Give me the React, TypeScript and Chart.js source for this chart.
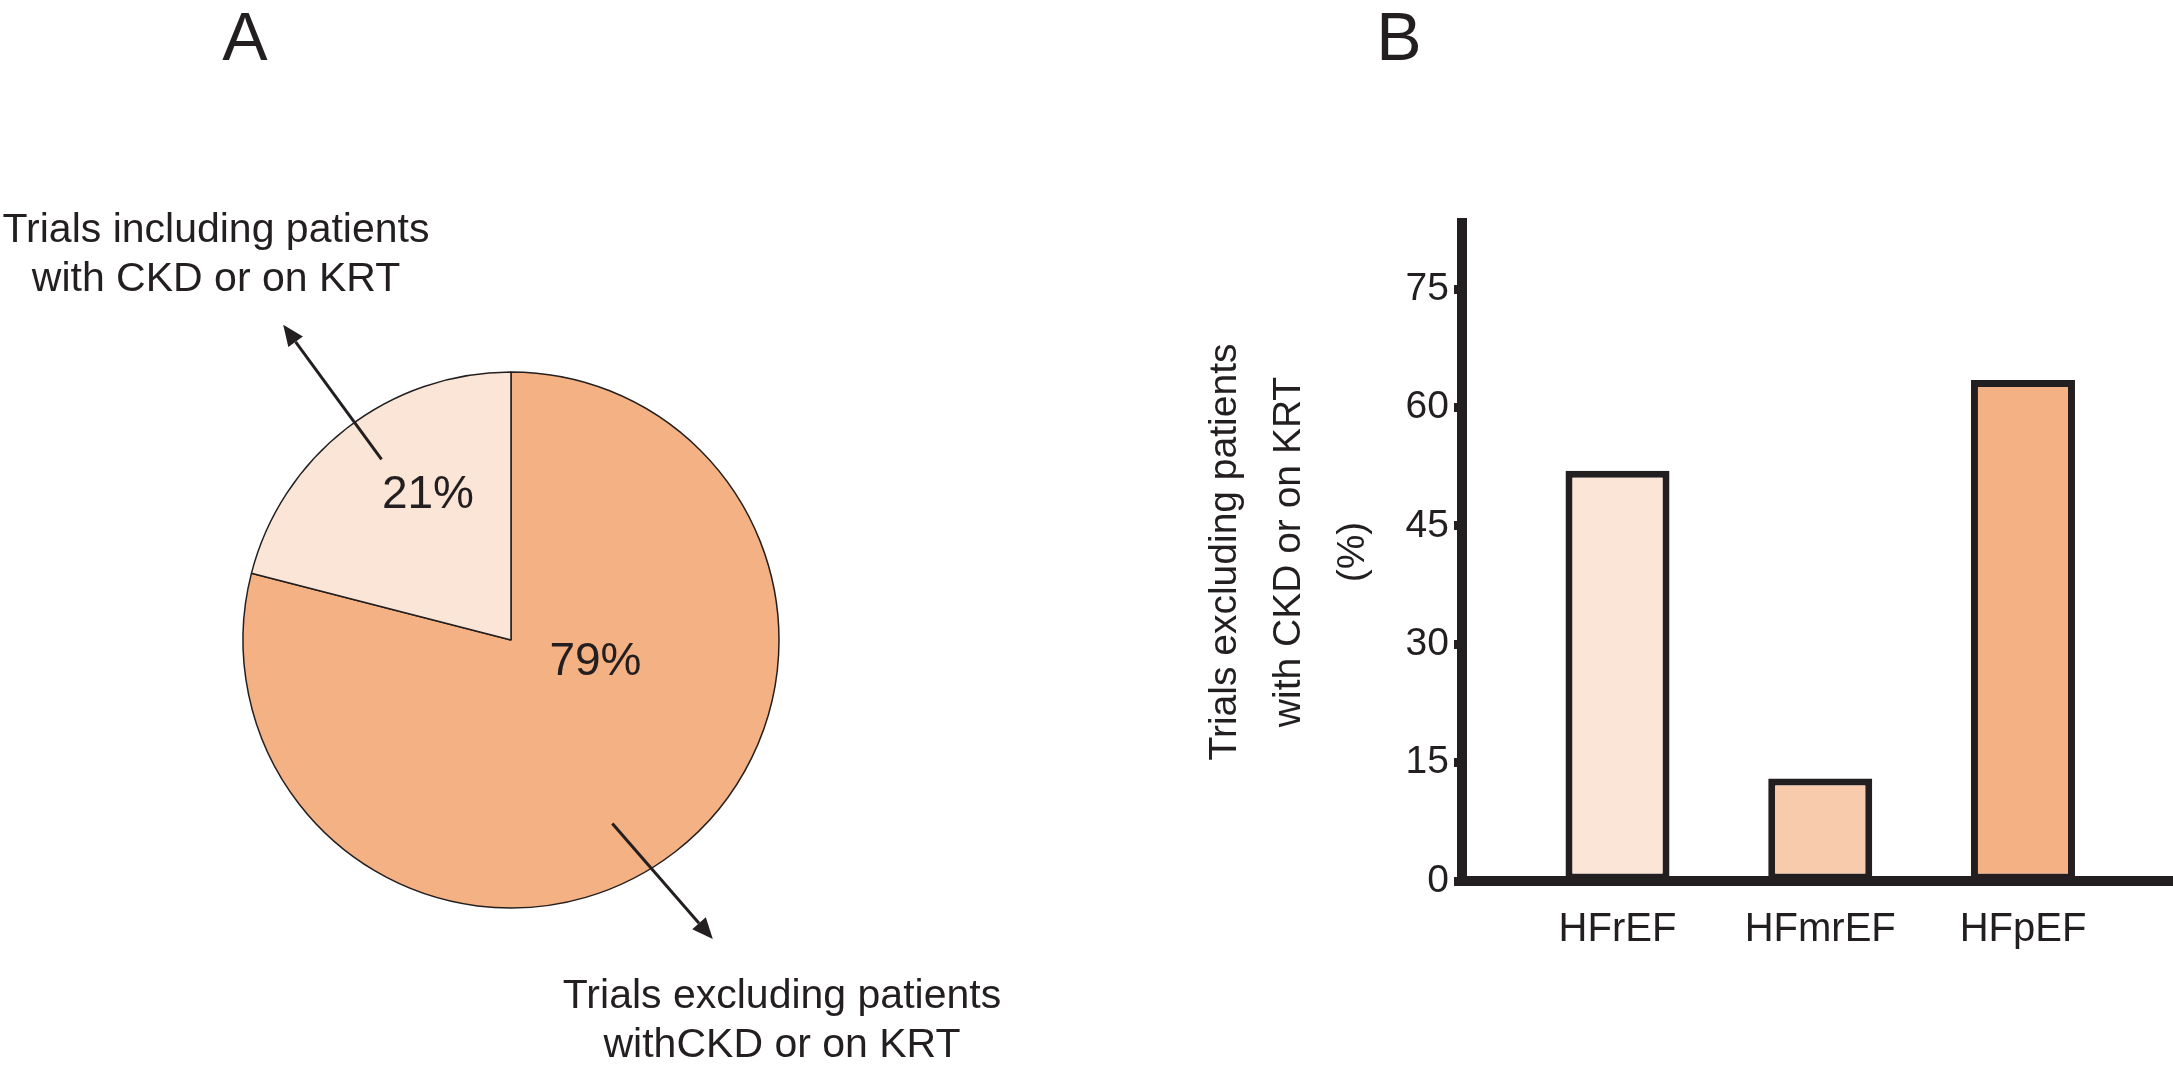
import React, { useEffect, useRef } from "react";
import { Chart, registerables } from "chart.js";

Chart.register(...registerables);

// ---------- data ----------
const pieCategories = [
  "Trials excluding patients withCKD or on KRT",
  "Trials including patients with CKD or on KRT",
];
const pieValues = [79, 21];
const pieColors = ["#F4B183", "#FBE5D6"];
const pieCalloutLines = [
  ["Trials excluding patients", "withCKD or on KRT"],
  ["Trials including patients", "with CKD or on KRT"],
];

const barCategories = ["HFrEF", "HFmrEF", "HFpEF"];
const barValues = [52, 13, 63.5];
const barColors = ["#FBE5D6", "#F8CBAD", "#F4B183"];
const yTickValues = [0, 15, 30, 45, 60, 75];
const yTitleLines = ["Trials excluding patients", "with CKD or on KRT", "(%)"];

const INK = "#231F20";
const FONT = "'Liberation Sans', Arial, Helvetica, sans-serif";

// label / arrow anchors, in units of pie radius relative to pie centre
const pieLabelAnchors = [
  { x: 0.315, y: 0.082 },
  { x: -0.31, y: -0.54 },
];
const pieArrowAnchors = [
  { from: { x: 0.378, y: 0.685 }, to: { x: 0.753, y: 1.116 } },
  { from: { x: -0.483, y: -0.674 }, to: { x: -0.85, y: -1.176 } },
];

const pieOverlay = {
  id: "pieOverlay",
  afterDatasetsDraw(chart: any) {
    const ctx = chart.ctx;
    const meta = chart.getDatasetMeta(0);
    const values = chart.data.datasets[0].data;
    ctx.save();
    meta.data.forEach((arc: any, i: number) => {
      const cx = arc.x;
      const cy = arc.y;
      const r = arc.outerRadius;
      // percentage label
      const a = pieLabelAnchors[i];
      ctx.fillStyle = INK;
      ctx.font = `46px ${FONT}`;
      ctx.textAlign = "center";
      ctx.textBaseline = "middle";
      ctx.fillText(`${values[i]}%`, cx + a.x * r, cy + a.y * r);
      // arrow
      const ar = pieArrowAnchors[i];
      const x1 = cx + ar.from.x * r;
      const y1 = cy + ar.from.y * r;
      const x2 = cx + ar.to.x * r;
      const y2 = cy + ar.to.y * r;
      const ang = Math.atan2(y2 - y1, x2 - x1);
      const headLen = 21;
      const headHalf = 9;
      const bx = x2 - headLen * Math.cos(ang);
      const by = y2 - headLen * Math.sin(ang);
      ctx.strokeStyle = INK;
      ctx.lineWidth = 3;
      ctx.beginPath();
      ctx.moveTo(x1, y1);
      ctx.lineTo(bx, by);
      ctx.stroke();
      ctx.beginPath();
      ctx.moveTo(x2, y2);
      ctx.lineTo(bx + headHalf * Math.sin(ang), by - headHalf * Math.cos(ang));
      ctx.lineTo(bx - headHalf * Math.sin(ang), by + headHalf * Math.cos(ang));
      ctx.closePath();
      ctx.fillStyle = INK;
      ctx.fill();
    });
    ctx.restore();
  },
};

function PieChart() {
  const ref = useRef<HTMLCanvasElement>(null);
  useEffect(() => {
    const chart = new Chart(ref.current as HTMLCanvasElement, {
      type: "pie",
      data: {
        labels: pieCategories,
        datasets: [
          {
            data: pieValues,
            backgroundColor: pieColors,
            borderColor: INK,
            borderWidth: 1.5,
          },
        ],
      },
      options: {
        responsive: false,
        animation: false,
        radius: 268,
        layout: { padding: { left: 244, top: 373, right: 322, bottom: 161 } },
        plugins: { legend: { display: false }, tooltip: { enabled: false } },
      } as any,
      plugins: [pieOverlay],
    });
    return () => chart.destroy();
  }, []);
  return (
    <canvas
      ref={ref}
      width={1100}
      height={1068}
      style={{ position: "absolute", left: 0, top: 0, width: 1100, height: 1068 }}
    />
  );
}

function BarChart() {
  const ref = useRef<HTMLCanvasElement>(null);
  useEffect(() => {
    const chart = new Chart(ref.current as HTMLCanvasElement, {
      type: "bar",
      data: {
        datasets: [
          {
            data: barCategories.map((c, i) => ({ x: i, y: barValues[i] })),
            backgroundColor: barColors,
            borderColor: INK,
            borderWidth: 7,
            borderSkipped: false,
            categoryPercentage: 1,
            barPercentage: 0.513,
          },
        ],
      },
      options: {
        responsive: false,
        animation: false,
        layout: { padding: { top: 223, left: 0, right: 0, bottom: 0 } },
        plugins: { legend: { display: false }, tooltip: { enabled: false } },
        scales: {
          x: {
            type: "linear",
            offset: false,
            min: -0.767,
            max: 2.74,
            afterFit: (s: any) => {
              s.height = 187;
            },
            afterBuildTicks: (s: any) => {
              s.ticks = barCategories.map((c, i) => ({ value: i }));
            },
            grid: { display: false, drawTicks: false, offset: false },
            border: { display: true, color: INK, width: 10, z: 1 },
            ticks: {
              padding: 25,
              color: INK,
              font: { family: FONT, size: 40 },
              callback: (v: any) => barCategories[v] ?? "",
            },
          },
          y: {
            min: 0,
            max: 83.4,
            afterFit: (s: any) => {
              s.width = 362;
            },
            afterBuildTicks: (s: any) => {
              s.ticks = yTickValues.map((v) => ({ value: v }));
            },
            grid: {
              display: true,
              drawOnChartArea: false,
              drawTicks: true,
              tickLength: 8,
              tickWidth: 9,
              tickColor: INK,
            },
            border: { display: true, color: INK, width: 10, z: 1 },
            ticks: {
              padding: 5,
              color: INK,
              font: { family: FONT, size: 39 },
            },
            title: {
              display: true,
              text: yTitleLines,
              color: INK,
              font: { family: FONT, size: 39, lineHeight: 1.64 },
              padding: { top: 93.5, bottom: 0 },
            },
          },
        },
      } as any,
    });
    return () => chart.destroy();
  }, []);
  return (
    <canvas
      ref={ref}
      width={1073}
      height={1068}
      style={{ position: "absolute", left: 1100, top: 0, width: 1073, height: 1068 }}
    />
  );
}

const textBase: React.CSSProperties = {
  position: "absolute",
  fontFamily: FONT,
  color: INK,
  textAlign: "center",
  whiteSpace: "nowrap",
  transform: "translateX(-50%)",
};

export default function App() {
  useEffect(() => {
    document.body.style.margin = "0";
  }, []);
  return (
    <div
      style={{
        position: "absolute",
        left: 0,
        top: 0,
        width: 2173,
        height: 1068,
        overflow: "hidden",
        background: "#ffffff",
      }}
    >
      <PieChart />
      <BarChart />
      <div style={{ ...textBase, left: 245, top: 2, fontSize: 68, lineHeight: "68px" }}>A</div>
      <div style={{ ...textBase, left: 1399, top: 2, fontSize: 68, lineHeight: "68px" }}>B</div>
      <div style={{ ...textBase, left: 216, top: 204, fontSize: 41, lineHeight: "49px" }}>
        {pieCalloutLines[1].map((l, i) => (
          <div key={i}>{l}</div>
        ))}
      </div>
      <div style={{ ...textBase, left: 782, top: 970, fontSize: 41, lineHeight: "49px" }}>
        {pieCalloutLines[0].map((l, i) => (
          <div key={i}>{l}</div>
        ))}
      </div>
    </div>
  );
}
